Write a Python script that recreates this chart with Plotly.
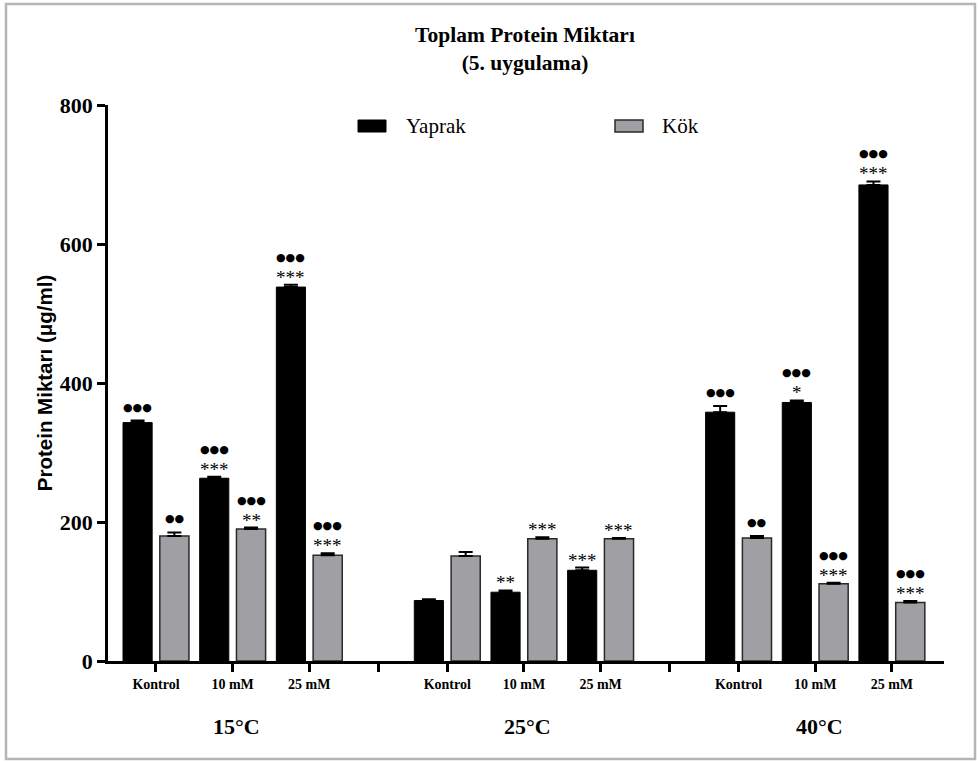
import plotly.graph_objects as go

# ---- data -------------------------------------------------------------
temps = ["15°C", "25°C", "40°C"]
doses = ["Kontrol", "10 mM", "25 mM"]

yaprak = [343, 263, 538, 87, 99, 130.5, 358, 372, 685]
yaprak_err = [3, 2, 3.5, 2, 2.5, 4, 9, 3, 5]
kok = [180, 190, 152, 151, 176, 176, 177, 111, 84]
kok_err = [5, 2, 3, 6, 2, 1, 3, 1.5, 2.5]

yaprak_stars = ["", "***", "***", "", "**", "***", "", "*", "***"]
yaprak_dots = ["●●●", "●●●", "●●●", "", "", "", "●●●", "●●●", "●●●"]
kok_stars = ["", "**", "***", "", "***", "***", "", "***", "***"]
kok_dots = ["●●", "●●●", "●●●", "", "", "", "●●", "●●●", "●●●"]

# ---- geometry ---------------------------------------------------------
W, H = 979, 762
ML, MR, MT, MB = 108, 35, 105, 101
PW, PH = W - ML - MR, H - MT - MB
GROUP_PITCH = 3.8          # distance between groups, in category slots
BAR_W = 0.38
OFF_L, OFF_R = -0.43, 0.05  # left edges of the two bars relative to the tick

pos = [g * GROUP_PITCH + k for g in range(len(temps)) for k in range(len(doses))]
seps = [(g + 1) * GROUP_PITCH - (GROUP_PITCH - 2) / 2 for g in range(len(temps) - 1)]
XR = [-0.626, 10.28]


def px_x(px):
    return (px - ML) / PW


def px_y(py):
    return (H - MB - py) / PH


SERIF = "Liberation Serif, Times New Roman, serif"
SANS = "Liberation Sans, Arial, sans-serif"
GRAY = "#a0a0a4"

fig = go.Figure()
fig.add_trace(go.Bar(
    name="Yaprak", x=pos, y=yaprak, width=BAR_W, offset=OFF_L,
    marker=dict(color="black", line=dict(color="black", width=1)),
    error_y=dict(type="data", array=yaprak_err, arrayminus=[0] * len(pos),
                 symmetric=False, color="black", thickness=2, width=7),
    showlegend=False,
))
fig.add_trace(go.Bar(
    name="Kök", x=pos, y=kok, width=BAR_W, offset=OFF_R,
    marker=dict(color=GRAY, line=dict(color="#2a2a2a", width=1.5)),
    error_y=dict(type="data", array=kok_err, arrayminus=[0] * len(pos),
                 symmetric=False, color="black", thickness=2, width=7),
    showlegend=False,
))

# significance marks above each bar
ann = []
for vals, errs, stars, dots, off in [
    (yaprak, yaprak_err, yaprak_stars, yaprak_dots, OFF_L),
    (kok, kok_err, kok_stars, kok_dots, OFF_R),
]:
    for p, v, e, s, d in zip(pos, vals, errs, stars, dots):
        xc = p + off + BAR_W / 2
        if s:
            ann.append(dict(x=xc, y=v + e, text=s, showarrow=False,
                            yanchor="bottom", yshift=-5,
                            font=dict(family=SERIF, size=19, color="#000000")))
        if d:
            ann.append(dict(x=xc, y=v + e, text=d, showarrow=False,
                            yanchor="bottom", yshift=19 if s else 5,
                            font=dict(family="DejaVu Sans", size=11, color="#000000")))

# temperature group labels
for g, t in enumerate(temps):
    ann.append(dict(x=pos[g * 3 + 1] + 0.05, y=px_y(726), yref="paper", text=t,
                    showarrow=False, yanchor="middle",
                    font=dict(family=SERIF, size=22, color="black", weight="bold")))

# legend text
ann.append(dict(x=px_x(404), y=px_y(126), xref="paper", yref="paper",
                text="Yaprak", showarrow=False, xanchor="left", yanchor="middle",
                font=dict(family=SERIF, size=21, color="black")))
ann.append(dict(x=px_x(660), y=px_y(126), xref="paper", yref="paper",
                text="Kök", showarrow=False, xanchor="left", yanchor="middle",
                font=dict(family=SERIF, size=21, color="black")))

shapes = [
    # legend keys
    dict(type="rect", xref="paper", yref="paper",
         x0=px_x(358), x1=px_x(386), y0=px_y(132), y1=px_y(120),
         fillcolor="black", line=dict(color="black", width=1)),
    dict(type="rect", xref="paper", yref="paper",
         x0=px_x(615), x1=px_x(643), y0=px_y(132), y1=px_y(120),
         fillcolor=GRAY, line=dict(color="#2a2a2a", width=1.5)),
    # frame around the figure
    dict(type="rect", xref="paper", yref="paper",
         x0=px_x(6), x1=px_x(975), y0=px_y(759), y1=px_y(4),
         fillcolor="rgba(0,0,0,0)", line=dict(color="#b5b5b5", width=2.5)),
]

tickvals = pos + seps
ticktext = [doses[i % 3] for i in range(len(pos))] + [""] * len(seps)

fig.update_layout(
    width=W, height=H,
    margin=dict(l=ML, r=MR, t=MT, b=MB),
    paper_bgcolor="white", plot_bgcolor="white",
    barmode="overlay",
    title=dict(text="Toplam Protein Miktarı<br>(5. uygulama)",
               x=px_x(525), xref="paper", xanchor="center",
               y=1 - 42 / H, yanchor="middle",
               font=dict(family=SERIF, size=21.5, color="black", weight="bold")),
    xaxis=dict(range=XR, tickvals=tickvals, ticktext=ticktext,
               showline=True, linecolor="black", linewidth=2.5,
               ticks="outside", ticklen=8, tickwidth=2.5, tickcolor="black",
               tickfont=dict(family=SERIF, size=14, color="black", weight="bold"),
               showgrid=False, zeroline=False, fixedrange=True),
    yaxis=dict(range=[0, 800], tickvals=[0, 200, 400, 600, 800],
               showline=True, linecolor="black", linewidth=2.5,
               ticks="outside", ticklen=8, tickwidth=2.5, tickcolor="black",
               tickfont=dict(family=SERIF, size=22, color="black", weight="bold"),
               title=dict(text="Protein Miktarı (μg/ml)", standoff=2,
                          font=dict(family=SANS, size=20.5, color="black", weight="bold")),
               showgrid=False, zeroline=False, fixedrange=True),
    annotations=ann,
    shapes=shapes,
)

fig.write_html("out.html")
